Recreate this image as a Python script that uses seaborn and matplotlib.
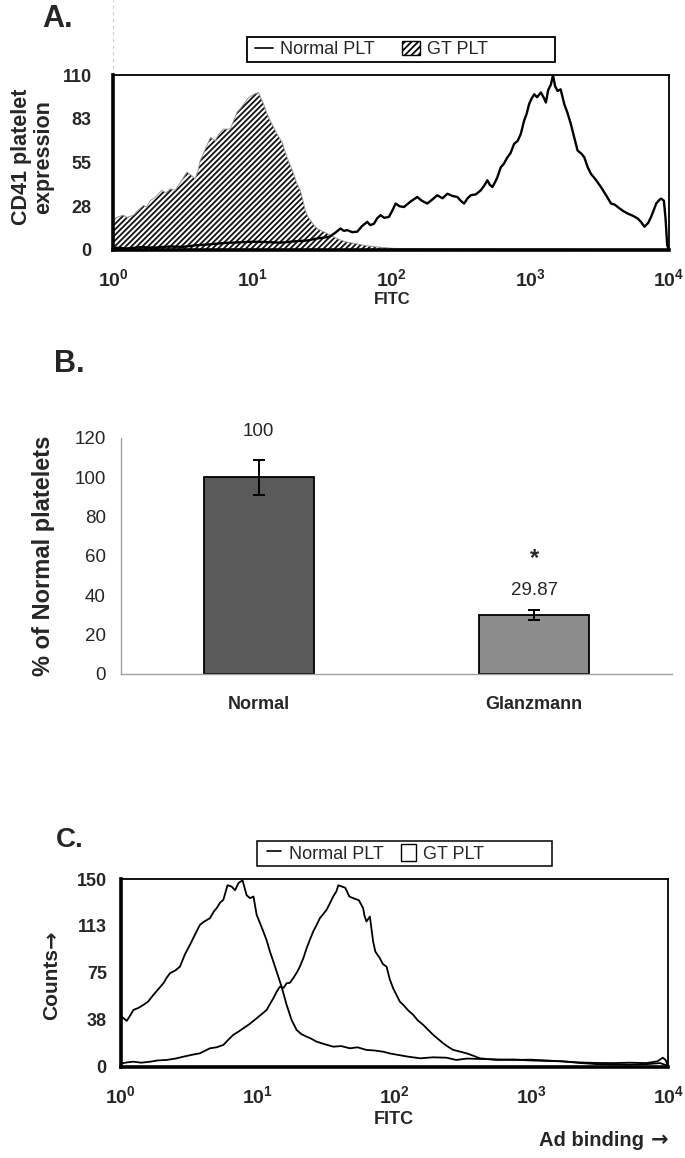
import matplotlib
matplotlib.use("Agg")
import matplotlib.pyplot as plt
from matplotlib.lines import Line2D
from matplotlib.patches import Patch, Rectangle
from matplotlib.ticker import LogLocator, MultipleLocator, NullFormatter, FixedLocator
import numpy as np
import pandas as pd
import seaborn as sns

# ---- panel A: CD41 histograms (x given as log10 of FITC) ----
a_normal_log = [0.00, 0.10, 0.20, 0.30, 0.40, 0.50, 0.60, 0.70, 0.80, 0.90, 1.00, 1.10, 1.20, 1.30,
                1.40, 1.47, 1.52, 1.56, 1.60, 1.635, 1.66, 1.683, 1.72, 1.756, 1.79, 1.828, 1.85,
                1.876, 1.90, 1.924, 1.95, 1.984, 2.01, 2.032, 2.06, 2.092, 2.14, 2.188, 2.22, 2.26,
                2.30, 2.332, 2.37, 2.405, 2.44, 2.477, 2.50, 2.525, 2.55, 2.573, 2.61, 2.645, 2.67,
                2.693, 2.71, 2.729, 2.75, 2.765, 2.789, 2.81, 2.837, 2.86, 2.885, 2.91, 2.933, 2.957,
                2.975, 2.993, 3.01, 3.03, 3.05, 3.078, 3.10, 3.114, 3.13, 3.15, 3.165, 3.18, 3.198,
                3.22, 3.246, 3.27, 3.294, 3.32, 3.342, 3.37, 3.39, 3.415, 3.438, 3.47, 3.51, 3.55,
                3.583, 3.61, 3.631, 3.67, 3.703, 3.74, 3.775, 3.80, 3.823, 3.85, 3.871, 3.89, 3.908,
                3.93, 3.944, 3.963, 3.975, 3.987, 4.00]
a_normal_cnt = [1.5, 1.0, 1.8, 1.5, 2.2, 2.0, 3.0, 3.6, 4.4, 4.8, 5.2, 5.0, 4.6, 5.4,
                6.0, 7.3, 7.8, 8.5, 11.0, 13.5, 12.0, 12.5, 11.2, 11.5, 15.0, 17.7, 15.6,
                16.5, 20.0, 21.9, 20.2, 20.8, 25.0, 29.2, 27.5, 27.0, 30.5, 33.3, 31.0, 29.2,
                32.0, 34.4, 32.5, 35.4, 34.0, 33.3, 31.0, 29.2, 32.5, 34.4, 35.0, 37.5, 40.5,
                43.8, 41.0, 39.6, 43.0, 45.8, 52.0, 54.0, 58.3, 61.0, 66.7, 68.5, 72.9, 81.3,
                85.5, 91.7, 95.0, 97.9, 96.0, 99.0, 95.5, 92.7, 100.5, 104.0, 110.0, 103.0, 100.0,
                101.0, 91.7, 86.0, 79.0, 70.0, 62.5, 60.5, 58.3, 52.0, 47.9, 44.5, 39.6, 34.0,
                29.2, 28.5, 27.0, 24.5, 22.9, 21.5, 19.8, 17.5, 14.6, 17.0, 20.8, 25.0, 29.2,
                31.5, 32.3, 31.0, 20.0, 3.0, 0.0]

a_gt_log = [0.00, 0.012, 0.04, 0.072, 0.10, 0.145, 0.18, 0.217, 0.24, 0.265, 0.30, 0.349, 0.38,
            0.409, 0.445, 0.48, 0.53, 0.56, 0.589, 0.61, 0.625, 0.66, 0.70, 0.734, 0.76, 0.794,
            0.842, 0.865, 0.89, 0.915, 0.938, 0.974, 1.01, 1.046, 1.065, 1.082, 1.105, 1.13,
            1.155, 1.178, 1.215, 1.25, 1.275, 1.298, 1.32, 1.346, 1.365, 1.382, 1.40, 1.418,
            1.44, 1.467, 1.50, 1.539, 1.59, 1.635, 1.68, 1.731, 1.80, 1.875, 1.95, 2.02, 2.3,
            2.6, 2.9, 3.2, 3.5, 3.8, 4.0]
a_gt_cnt = [19.0, 19.8, 21.0, 21.9, 20.5, 21.9, 25.0, 28.0, 27.0, 31.0, 33.0, 37.5, 36.0,
            38.5, 37.5, 42.0, 49.0, 47.0, 44.8, 50.0, 56.0, 63.0, 70.8, 68.8, 73.0, 76.0,
            76.0, 81.0, 86.5, 89.0, 91.7, 95.8, 97.9, 99.0, 95.0, 91.7, 86.0, 81.2,
            77.0, 72.9, 67.7, 58.3, 53.0, 47.9, 42.0, 37.5, 31.0, 25.0, 21.0, 18.8,
            16.0, 13.5, 12.0, 10.4, 8.0, 6.3, 5.0, 4.2, 3.0, 2.1, 1.5, 1.0, 0.8,
            0.8, 0.6, 0.6, 0.4, 0.2, 0.0]

a_yticks = [0, 27.5, 55, 82.5, 110]
a_yticklabels = ["0", "28", "55", "83", "110"]

# ---- panel B: bar chart ----
b_groups = ["Normal", "Glanzmann"]
b_values = [100, 29.87]
b_errors = [9.0, 2.5]
b_labels = ["100", "29.87"]
b_colors = ["#5a5a5a", "#8c8c8c"]
b_yticks = [0, 20, 40, 60, 80, 100, 120]

# ---- panel C: Ad binding histograms ----
c_gt_log = [0.00, 0.007, 0.044, 0.07, 0.093, 0.13, 0.166, 0.20, 0.239, 0.275, 0.312, 0.335,
            0.36, 0.40, 0.433, 0.47, 0.506, 0.54, 0.579, 0.61, 0.652, 0.68, 0.701, 0.725, 0.75,
            0.78, 0.81, 0.835, 0.86, 0.89, 0.92, 0.945, 0.97, 0.993, 1.042, 1.066, 1.09, 1.115,
            1.139, 1.175, 1.212, 1.248, 1.285, 1.32, 1.358, 1.39, 1.431, 1.49, 1.552, 1.61,
            1.674, 1.73, 1.795, 1.85, 1.917, 1.97, 2.027, 2.10, 2.19, 2.28, 2.38, 2.45, 2.53,
            2.62, 2.75, 2.87, 3.00, 3.11, 3.23, 3.35, 3.47, 3.60, 3.72, 3.84, 3.92, 3.96, 3.98,
            4.00]
c_gt_cnt = [42, 40, 36.6, 41, 45.4, 47, 49.4, 52, 57.4, 62, 66.7, 71,
            74.7, 77, 80, 90, 97.4, 105, 113.4, 116, 118.7, 124, 126.7, 131, 133.4,
            145, 144, 141, 146.7, 149, 137, 134.7, 136, 121.4, 108, 101, 92, 84,
            76, 64, 49.4, 37.4, 29.4, 26, 24, 22.5, 20, 18, 16, 16.5,
            14.7, 15.5, 13.4, 13, 12, 10.5, 9.4, 8, 6.7, 7.5, 7.2, 5.4, 6.5,
            6.2, 5.8, 5.4, 5.6, 5.0, 4.2, 3.4, 3.0, 2.9, 3.2, 2.9, 4.3, 7.2, 5.4,
            0]

c_normal_log = [0.00, 0.007, 0.05, 0.093, 0.15, 0.215, 0.27, 0.336, 0.40, 0.458, 0.52, 0.579,
                0.62, 0.652, 0.70, 0.75, 0.79, 0.822, 0.86, 0.896, 0.94, 0.993, 1.03, 1.066,
                1.09, 1.115, 1.14, 1.163, 1.19, 1.212, 1.235, 1.26, 1.285, 1.309, 1.335, 1.358,
                1.38, 1.406, 1.43, 1.455, 1.48, 1.504, 1.53, 1.552, 1.575, 1.59, 1.615, 1.64,
                1.67, 1.698, 1.74, 1.771, 1.78, 1.795, 1.82, 1.844, 1.86, 1.893, 1.915, 1.942,
                1.965, 1.99, 2.039, 2.064, 2.10, 2.137, 2.17, 2.21, 2.25, 2.283, 2.32, 2.356,
                2.39, 2.429, 2.48, 2.526, 2.57, 2.624, 2.69, 2.75, 2.87, 2.99, 3.11, 3.23,
                3.35, 3.47, 3.60, 3.72, 3.84, 3.94, 3.99, 4.00]
c_normal_cnt = [3.5, 2.7, 3.5, 4.0, 3.2, 4.0, 5.0, 5.4, 6.5, 8.0, 9.5, 10.7,
                13.0, 14.7, 15.5, 17.4, 22.0, 25.4, 28.0, 30.7, 34.0, 38.7, 42.0, 45.4,
                50.0, 54.7, 60.0, 64, 63, 66.7, 67, 70.7, 75, 80, 87, 94.7,
                101, 108, 113, 118.7, 122, 125.4, 131, 136, 140, 145, 144, 143,
                136, 134.7, 133, 126.7, 121, 116, 120, 100, 92, 86.7, 82, 80,
                70, 62.7, 52, 49.4, 45, 41.4, 37, 33.4, 29, 25.4, 22, 18.7,
                16, 13.4, 12, 10.7, 9, 6.7, 6.0, 5.4, 5.8, 5.0, 4.6, 4.3,
                3.0, 2.1, 1.8, 1.6, 2.0, 2.9, 1.0, 0]

c_yticks = [0, 37.5, 75, 112.5, 150]
c_yticklabels = ["0", "38", "75", "113", "150"]

decades = [1, 10, 100, 1000, 10000]
decade_labels = [r"$10^{0}$", r"$10^{1}$", r"$10^{2}$", r"$10^{3}$", r"$10^{4}$"]

sns.set_style("white")
plt.rcParams["font.family"] = ["Liberation Sans", "DejaVu Sans"]
plt.rcParams["mathtext.fontset"] = "custom"
plt.rcParams["mathtext.rm"] = "Liberation Sans:bold"
plt.rcParams["mathtext.it"] = "Liberation Sans:bold"
plt.rcParams["mathtext.bf"] = "Liberation Sans:bold"
plt.rcParams["hatch.linewidth"] = 1.3

W, H = 685, 1158
fig = plt.figure(figsize=(W / 100, H / 100), dpi=100)


def px_axes(left, top, right, bottom):
    return fig.add_axes([left / W, 1 - bottom / H, (right - left) / W, (bottom - top) / H])


def fx(x):
    return x / W


def fy(y):
    return 1 - y / H


def style_flow(ax, yticks, ylabels, ymax, ylen, ypad):
    ax.set_xscale("log")
    ax.set_xlim(1, 1e4)
    ax.set_ylim(0, ymax)
    ax.xaxis.set_major_locator(FixedLocator(decades))
    ax.set_xticklabels(decade_labels)
    ax.xaxis.set_minor_locator(LogLocator(base=10, subs=np.arange(2, 10)))
    ax.xaxis.set_minor_formatter(NullFormatter())
    ax.set_yticks(yticks)
    ax.set_yticklabels(ylabels, fontweight="bold")
    ax.yaxis.set_minor_locator(MultipleLocator(yticks[1] / 4))
    for s in ["left", "bottom"]:
        ax.spines[s].set_linewidth(2.6)
        ax.spines[s].set_color("black")
    for s in ["top", "right"]:
        ax.spines[s].set_linewidth(1.3)
        ax.spines[s].set_color("black")
    ax.tick_params(axis="x", which="major", direction="out", length=6, width=1,
                   color="#555555", labelsize=14, pad=7)
    ax.tick_params(axis="x", which="minor", direction="out", length=4, width=1, color="#555555")
    ax.tick_params(axis="y", which="both", direction="out", length=ylen, width=1,
                   color="#888888", labelsize=13, pad=ypad)
    ax.set_xlabel("")
    ax.set_ylabel("")


# ---------------- panel A ----------------
axA = px_axes(113.3, 75, 669, 250)
dfA_gt = pd.DataFrame({"fitc": np.power(10.0, a_gt_log), "count": a_gt_cnt})
dfA_n = pd.DataFrame({"fitc": np.power(10.0, a_normal_log), "count": a_normal_cnt})
axA.fill_between(dfA_gt["fitc"], dfA_gt["count"], facecolor="white", edgecolor="#111111",
                 hatch="//////", linewidth=0)
sns.lineplot(data=dfA_gt, x="fitc", y="count", ax=axA, color="#9a9a9a", lw=0.7,
             estimator=None, sort=False)
sns.lineplot(data=dfA_n, x="fitc", y="count", ax=axA, color="black", lw=1.7,
             estimator=None, sort=False)
style_flow(axA, a_yticks, a_yticklabels, 110, 6.5, 9)
axA.set_ylabel("CD41 platelet\nexpression", fontsize=15.5, fontweight="bold", linespacing=1.1)
axA.yaxis.set_label_coords(-0.106, 0.53)
fig.text(fx(392), fy(299), "FITC", fontsize=12, fontweight="bold", ha="center", va="center")
axA.plot([0, 0], [1, 1.43], transform=axA.transAxes, clip_on=False, ls=(0, (3, 3)),
         color="#cccccc", lw=0.8)

fig.legend(handles=[Line2D([0], [0], color="black", lw=1.2, label="Normal PLT"),
                    Patch(facecolor="white", edgecolor="black", hatch="/////", label="GT PLT")],
           loc="center left", bbox_to_anchor=(fx(255), fy(49.5)), ncol=2, frameon=False,
           fontsize=13, handlelength=1.0, handleheight=0.8, handletextpad=0.4,
           columnspacing=1.5, borderpad=0, borderaxespad=0)
fig.add_artist(Rectangle((fx(247), fy(62)), 308 / W, 24.5 / H, transform=fig.transFigure,
                         fill=False, ec="black", lw=1.3))
fig.text(fx(42), fy(19), "A.", fontsize=22, fontweight="bold", ha="left", va="center")

# ---------------- panel B ----------------
axB = px_axes(121, 438, 672, 674)
sns.barplot(x=b_groups, y=b_values, hue=b_groups, palette=b_colors, legend=False,
            width=0.4, edgecolor="black", linewidth=1.3, errorbar=None, ax=axB)
axB.errorbar(x=[0, 1], y=b_values, yerr=b_errors, fmt="none", ecolor="black",
             elinewidth=1.4, capsize=4, capthick=1.4)
label_offsets = [14, 8]
for i, (v, e, lab) in enumerate(zip(b_values, b_errors, b_labels)):
    axB.annotate(lab, (i, v + e), xytext=(0, label_offsets[i]), textcoords="offset points",
                 ha="center", va="bottom", fontsize=13.5)
axB.annotate("*", (1, b_values[1] + b_errors[1]), xytext=(0, 37), textcoords="offset points",
             ha="center", va="center", fontsize=17, fontweight="bold")
axB.set_xlim(-0.5, 1.5)
axB.set_ylim(0, 120)
axB.set_yticks(b_yticks)
sns.despine(ax=axB)
for s in ["left", "bottom"]:
    axB.spines[s].set_color("#a0a0a0")
    axB.spines[s].set_linewidth(1.0)
axB.xaxis.set_minor_locator(FixedLocator([-0.5, 0.5, 1.5]))
axB.tick_params(axis="x", which="major", length=0, labelsize=13, pad=16)
axB.tick_params(axis="x", which="minor", length=6, width=1, color="#a0a0a0", direction="out")
axB.tick_params(axis="y", which="major", length=5, width=1, color="#a0a0a0", direction="out",
                labelsize=13.5, pad=6)
for t in axB.get_xticklabels():
    t.set_fontweight("bold")
axB.set_xlabel("")
axB.set_ylabel("% of Normal platelets", fontsize=17, fontweight="bold")
axB.yaxis.set_label_coords(-0.12, 0.5)
fig.text(fx(54), fy(364), "B.", fontsize=22, fontweight="bold", ha="left", va="center")

# ---------------- panel C ----------------
axC = px_axes(120.7, 879, 668.3, 1066.7)
dfC_gt = pd.DataFrame({"fitc": np.power(10.0, c_gt_log), "count": c_gt_cnt})
dfC_n = pd.DataFrame({"fitc": np.power(10.0, c_normal_log), "count": c_normal_cnt})
sns.lineplot(data=dfC_gt, x="fitc", y="count", ax=axC, color="black", lw=1.3,
             estimator=None, sort=False)
sns.lineplot(data=dfC_n, x="fitc", y="count", ax=axC, color="black", lw=1.3,
             estimator=None, sort=False)
style_flow(axC, c_yticks, c_yticklabels, 150, 5, 5)
axC.set_ylabel("Counts", fontsize=15, fontweight="bold")
axC.yaxis.set_label_coords(-0.108, 0.44)
# bold arrow glyph from DejaVu, glued above the rotated label
axC.annotate("\u2192", xy=(0.5, 1.0), xycoords=axC.yaxis.label, ha="center", va="bottom",
             rotation=90, fontsize=15, fontweight="bold", family="DejaVu Sans")
fig.text(fx(394), fy(1120), "FITC", fontsize=13, fontweight="bold", ha="center", va="center")
ad_arrow = fig.text(fx(668), fy(1140), "\u2192", fontsize=15, fontweight="bold",
                    family="DejaVu Sans", ha="right", va="center")
axC.annotate("Ad binding", xy=(0.0, 0.5), xycoords=ad_arrow, xytext=(-5, 0),
             textcoords="offset points", ha="right", va="center", fontsize=14.5,
             fontweight="bold")

fig.legend(handles=[Line2D([0], [0], color="black", lw=1.2, label="Normal PLT"),
                    Patch(facecolor="white", edgecolor="black", label="GT PLT")],
           loc="center left", bbox_to_anchor=(fx(267), fy(853.5)), ncol=2, frameon=False,
           fontsize=13, handlelength=0.8, handleheight=1.0, handletextpad=0.4,
           columnspacing=1.0, borderpad=0, borderaxespad=0)
fig.add_artist(Rectangle((fx(257), fy(866)), 295 / W, 25 / H, transform=fig.transFigure,
                         fill=False, ec="black", lw=1.1))
fig.text(fx(56), fy(840), "C.", fontsize=20, fontweight="bold", ha="left", va="center")

fig.savefig("out.png", dpi=100)
